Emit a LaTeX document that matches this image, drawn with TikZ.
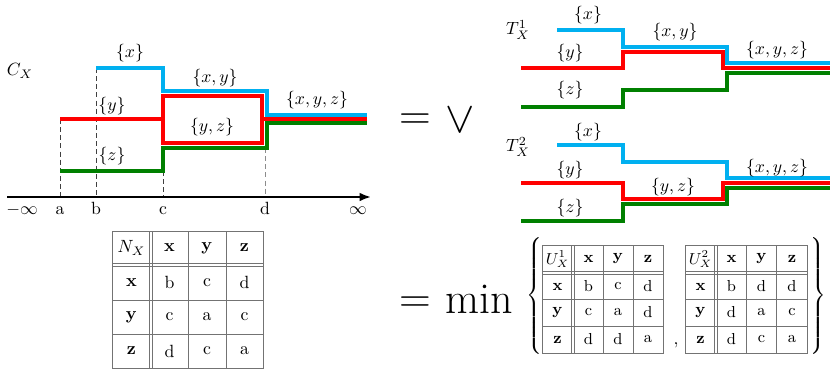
\documentclass[tikz,border=0pt]{standalone}
\usetikzlibrary{arrows.meta}
\definecolor{cblue}{RGB}{0,176,240}
\definecolor{cred}{RGB}{255,0,0}
\definecolor{cgreen}{RGB}{0,128,0}
\begin{document}
\begin{tikzpicture}[x=0.565pt,y=-0.565pt,
  curve/.style={line width=2.3pt},
  lbl/.style={inner sep=0pt},
  tline/.style={draw=black!55, line width=0.55pt},
  guide/.style={draw=black!75, line width=0.45pt, dash pattern=on 2.8pt off 1.8pt},
  cell/.style={inner sep=0pt},
  scell/.style={inner sep=0pt, font=\small},
  big/.style={inner sep=0pt, font=\Huge}]
\useasboundingbox (0,0) rectangle (830,373);

% ---------- C_X ----------
\draw[guide] (60,119) -- (60,197);
\draw[guide] (96,68) -- (96,197);
\draw[guide] (163,171) -- (163,197);
\draw[guide, draw=black!45] (265,148) -- (265,197);
\draw[curve,cgreen] (60,171) -- (163,171) -- (163,148) -- (267,148) -- (267,123) -- (367,123);
\draw[curve,cred] (60,119) -- (163,119);
\draw[curve,cred] (163,96) rectangle (262,143);
\draw[curve,cred] (262,119) -- (367,119);
\draw[curve,cblue] (96,68) -- (163,68) -- (163,91) -- (267,91) -- (267,115) -- (367,115);
\draw[line width=1.2pt, -{Latex[length=6.5pt,width=5pt]}] (7,197) -- (371,197);

\node[lbl] (cx) at (20,71) {$C_X$};
\node[lbl] (cx1) at (130,53) {$\{x\}$};
\node[lbl] (cx2) at (215,78) {$\{x,y\}$};
\node[lbl] (cx3) at (317,100) {$\{x,y,z\}$};
\node[lbl] (cx4) at (112,106) {$\{y\}$};
\node[lbl] (cx5) at (212,127) {$\{y,z\}$};
\node[lbl] (cx6) at (112,156) {$\{z\}$};

\node[lbl, anchor=base] (am) at (22,214) {$-\infty$};
\node[lbl, anchor=base] (aa) at (60,214) {a};
\node[lbl, anchor=base] (ab) at (96,214) {b};
\node[lbl, anchor=base] (ac) at (163,214) {c};
\node[lbl, anchor=base] (ad) at (265,214) {d};
\node[lbl, anchor=base] (ai) at (358,214) {$\infty$};

% ---------- = vee ----------
\node[big] (eq1) at (415,122) {$=$};
\node[big] (vee) at (460,120) {$\vee$};

% ---------- T1 ----------
\draw[curve,cgreen] (521,107) -- (623,107) -- (623,90) -- (727,90) -- (727,73) -- (830,73);
\draw[curve,cred] (521,68) -- (623,68) -- (623,52) -- (723,52) -- (723,68) -- (830,68);
\draw[curve,cblue] (557,30) -- (623,30) -- (623,47) -- (727,47) -- (727,63) -- (830,63);
\node[lbl] (t1) at (518,30) {$T_X^1$};
\node[lbl] (t1a) at (588,15) {$\{x\}$};
\node[lbl] (t1b) at (570,53) {$\{y\}$};
\node[lbl] (t1c) at (570,90) {$\{z\}$};
\node[lbl] (t1d) at (675,32) {$\{x,y\}$};
\node[lbl] (t1e) at (777,50) {$\{x,y,z\}$};

% ---------- T2 ----------
\draw[curve,cgreen] (521,221) -- (623,221) -- (623,204) -- (727,204) -- (727,188) -- (830,188);
\draw[curve,cred] (521,183) -- (623,183) -- (623,199) -- (723,199) -- (723,183) -- (830,183);
\draw[curve,cblue] (557,145) -- (623,145) -- (623,162) -- (727,162) -- (727,178) -- (830,178);
\node[lbl] (t2) at (518,147) {$T_X^2$};
\node[lbl] (t2a) at (588,132) {$\{x\}$};
\node[lbl] (t2b) at (570,170) {$\{y\}$};
\node[lbl] (t2c) at (570,208) {$\{z\}$};
\node[lbl] (t2d) at (673,187) {$\{y,z\}$};
\node[lbl] (t2e) at (777,168) {$\{x,y,z\}$};

% ---------- N_X table ----------
\draw[tline] (112,231) rectangle (263,368);
\foreach \xx in {149.5,152.5,188,226} \draw[tline] (\xx,231) -- (\xx,368);
\foreach \yy in {263.5,266.5,300,334} \draw[tline] (112,\yy) -- (263,\yy);
\node[cell] (n00) at (131.5,248) {$N_X$};
\node[cell] (n01) at (169.5,248) {$\mathbf{x}$};
\node[cell] (n02) at (207,248) {$\mathbf{y}$};
\node[cell] (n03) at (244.5,248) {$\mathbf{z}$};
\node[cell] (n10) at (131.5,282.5) {$\mathbf{x}$};
\node[cell] (n11) at (169.5,282.5) {b};
\node[cell] (n12) at (207,282.5) {c};
\node[cell] (n13) at (244.5,282.5) {d};
\node[cell] (n20) at (131.5,317) {$\mathbf{y}$};
\node[cell] (n21) at (169.5,317) {c};
\node[cell] (n22) at (207,317) {a};
\node[cell] (n23) at (244.5,317) {c};
\node[cell] (n30) at (131.5,351) {$\mathbf{z}$};
\node[cell] (n31) at (169.5,351) {d};
\node[cell] (n32) at (207,351) {c};
\node[cell] (n33) at (244.5,351) {a};

% ---------- = min { ... } ----------
\node[big] (eq2) at (415,305) {$=$};
\node[big, anchor=base] (mn) at (479.5,313) {min};
\node[inner sep=0pt] (lbr) at (534,298) {\nulldelimiterspace=0pt$\left\{\rule[-33pt]{0pt}{66pt}\right.$};
\node[inner sep=0pt] (rbr) at (818,298) {\nulldelimiterspace=0pt$\left.\rule[-33pt]{0pt}{66pt}\right\}$};
\node[inner sep=0pt, anchor=base] (cm) at (676,344) {$,$};

% U1
\draw[tline] (542,245) rectangle (663,353);
\foreach \xx in {571.5,574.5,603,633} \draw[tline] (\xx,245) -- (\xx,353);
\foreach \yy in {271.5,274.5,299,326} \draw[tline] (542,\yy) -- (663,\yy);
\node[scell] (u00) at (557.5,259) {$U_X^1$};
\node[scell] (u01) at (588.5,259) {$\mathbf{x}$};
\node[scell] (u02) at (618,259) {$\mathbf{y}$};
\node[scell] (u03) at (648,259) {$\mathbf{z}$};
\node[scell] (u10) at (557.5,286.5) {$\mathbf{x}$};
\node[scell] (u11) at (588.5,286.5) {b};
\node[scell] (u12) at (618,286.5) {c};
\node[scell] (u13) at (648,286.5) {d};
\node[scell] (u20) at (557.5,312.5) {$\mathbf{y}$};
\node[scell] (u21) at (588.5,312.5) {c};
\node[scell] (u22) at (618,312.5) {a};
\node[scell] (u23) at (648,312.5) {d};
\node[scell] (u30) at (557.5,339.5) {$\mathbf{z}$};
\node[scell] (u31) at (588.5,339.5) {d};
\node[scell] (u32) at (618,339.5) {d};
\node[scell] (u33) at (648,339.5) {a};

% U2
\draw[tline] (685,245) rectangle (807,353);
\foreach \xx in {714.5,717.5,746.5,776.5} \draw[tline] (\xx,245) -- (\xx,353);
\foreach \yy in {271.5,274.5,299,326} \draw[tline] (685,\yy) -- (807,\yy);
\node[scell] (v00) at (700.5,259) {$U_X^2$};
\node[scell] (v01) at (731.5,259) {$\mathbf{x}$};
\node[scell] (v02) at (761.5,259) {$\mathbf{y}$};
\node[scell] (v03) at (792,259) {$\mathbf{z}$};
\node[scell] (v10) at (700.5,286.5) {$\mathbf{x}$};
\node[scell] (v11) at (731.5,286.5) {b};
\node[scell] (v12) at (761.5,286.5) {d};
\node[scell] (v13) at (792,286.5) {d};
\node[scell] (v20) at (700.5,312.5) {$\mathbf{y}$};
\node[scell] (v21) at (731.5,312.5) {d};
\node[scell] (v22) at (761.5,312.5) {a};
\node[scell] (v23) at (792,312.5) {c};
\node[scell] (v30) at (700.5,339.5) {$\mathbf{z}$};
\node[scell] (v31) at (731.5,339.5) {d};
\node[scell] (v32) at (761.5,339.5) {c};
\node[scell] (v33) at (792,339.5) {a};
\end{tikzpicture}
\end{document}
